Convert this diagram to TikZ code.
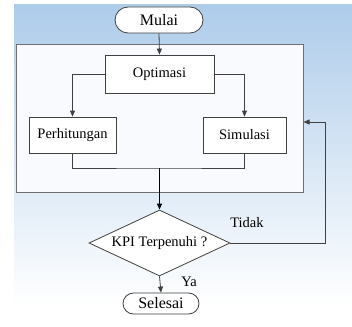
\documentclass[tikz,border=0pt]{standalone}
\usepackage{fontspec}
\setmainfont{Liberation Serif}
\usetikzlibrary{shapes.geometric,shapes.misc,arrows.meta}
\definecolor{bgtop}{RGB}{174,204,234}
\definecolor{contfill}{RGB}{248,250,253}
\definecolor{linec}{RGB}{64,64,64}
\definecolor{contline}{RGB}{110,110,115}
\tikzset{
  box/.style={draw=linec, line width=0.8pt, fill=white, rectangle, inner sep=0pt, font=\fontsize{14.5}{16}\selectfont},
  term/.style={draw=linec, line width=0.8pt, fill=white, rounded rectangle, inner sep=0pt, font=\fontsize{16}{18}\selectfont},
  conn/.style={draw=linec, line width=0.8pt},
  arr/.style={conn, -{Triangle[width=5pt,length=6pt]}},
  lbl/.style={font=\fontsize{14.5}{16}\selectfont, inner sep=0pt}
}
\begin{document}
\begin{tikzpicture}[x=1pt,y=-1pt]
\useasboundingbox (0,0) rectangle (352,326);
\shade[top color=bgtop, bottom color=white] (14,5) rectangle (352,305);
\node[draw=contline, line width=1pt, fill=contfill, rectangle, minimum width=287pt, minimum height=147pt, inner sep=0pt] (cont) at (159.5,118.5) {};
\node[term, minimum width=88pt, minimum height=26pt] (mulai) at (159,20) {Mulai};
\node[box, minimum width=109pt, minimum height=38pt] (opt) at (159.5,74) {Optimasi};
\node[box, minimum width=87pt, minimum height=36pt] (perh) at (72.5,135) {Perhitungan};
\node[box, minimum width=83pt, minimum height=36pt] (sim) at (244.5,135) {Simulasi};
\node[draw=linec, line width=0.8pt, fill=white, diamond, aspect=2.1, inner sep=0pt, minimum width=141pt, minimum height=66pt, font=\fontsize{14.5}{16}\selectfont] (kpi) at (159.5,243) {KPI Terpenuhi ?};
\node[term, minimum width=76pt, minimum height=21pt] (selesai) at (161,303.5) {Selesai};
\coordinate (j) at (159.5,168);
\coordinate (fb) at (325,122);
\draw[arr] (mulai.south) -- (opt.north);
\draw[arr] (opt.west) -| (perh.north);
\draw[arr] (opt.east) -| (sim.north);
\draw[conn] (perh.south) |- (j) -| (sim.south);
\draw[arr, draw=black, line width=1.2pt] (j) -- (kpi.north);
\draw[arr] (kpi.east) -| (fb) -- (cont.east |- fb);
\draw[arr] (kpi.south) -- (selesai.north);
\node[lbl] (tidak) at (247,223) {Tidak};
\node[lbl] (ya) at (189,282) {Ya};
\end{tikzpicture}
\end{document}
